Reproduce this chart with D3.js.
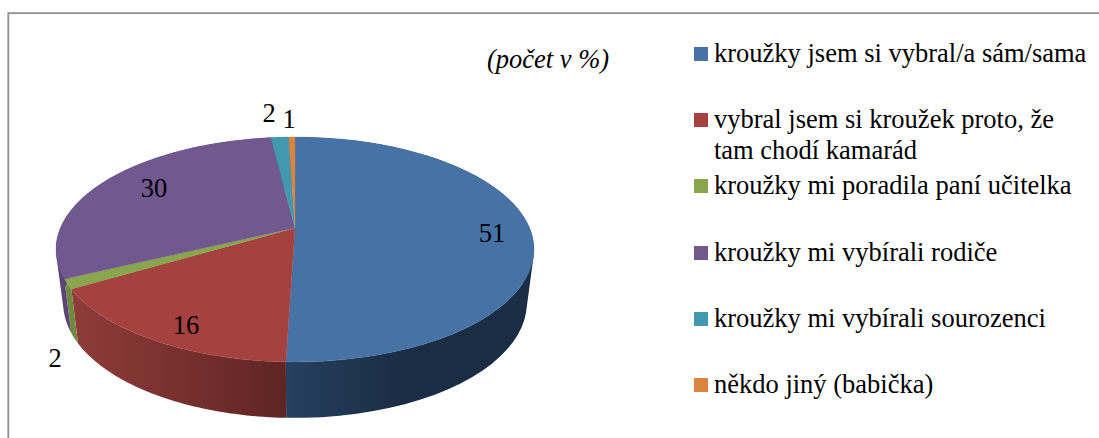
<!DOCTYPE html>
<html><head><meta charset="utf-8">
<style>html,body{margin:0;padding:0;background:#fff}svg{display:block}text{font-family:"Liberation Serif",serif;fill:#000}</style>
<script src="https://cdnjs.cloudflare.com/ajax/libs/d3/7.8.5/d3.min.js"></script>
</head><body><script>
const categories = ["kroužky jsem si vybral/a sám/sama","vybral jsem si kroužek proto, že|tam chodí kamarád","kroužky mi poradila paní učitelka","kroužky mi vybírali rodiče","kroužky mi vybírali sourozenci","někdo jiný (babička)"];
const labels = [51,16,2,30,2,1];
const shares = [50.5,16,1.4,30.15,1.45,0.5];
const colors = ["#4672a6","#a5423f","#89a54e","#71588f","#4198af","#db843d"];
const wallFrom = ["#27405f","#8f3c3a","#6f8a3e","#5a4574","#2f7486","#b06a30"];
const wallTo = ["#1a2d45","#5f2523","#6f8a3e","#5a4574","#2f7486","#b06a30"];
const labelPos = [[492,242],[186,334],[55,367],[154,197],[269,122],[289,128]];
const legendY = [54,120,186,253,319,385];

const W=1099,H=438;
const svg=d3.select("body").append("svg").attr("width",W).attr("height",H);
svg.append("path").attr("d","M8.3,438V13.2H1099").attr("fill","none").attr("stroke","#8f8f8f").attr("stroke-width",1.8);

const cx=295,c=-0.191,a=64.8,b=228,R=234.6,ecy=249.5,sx=0.97,sy=1.022,botCy=303;
const topPt=t=>{const u=Math.sin(t),v=-Math.cos(t),w=1+c*v;return [cx+R*u/w,(a*v+b)/w];};
const botPt=t=>{const p=topPt(t);return [cx+(p[0]-cx)*sx,botCy+(p[1]-ecy)*sy];};
const pie=d3.pie().sort(null).value(d=>d)(shares);
const defs=svg.append("defs");
pie.forEach((d,i)=>{
  const xs=d3.range(0,1.0001,0.02).map(k=>botPt(d.startAngle+k*(d.endAngle-d.startAngle))[0]);
  const g=defs.append("linearGradient").attr("id","w"+i).attr("gradientUnits","userSpaceOnUse")
    .attr("x1",i==0?286:(i==1?72:d3.min(xs))).attr("x2",i==0?400:(i==1?286:d3.max(xs))).attr("y1",0).attr("y2",0);
  g.append("stop").attr("offset",0).attr("stop-color",wallFrom[i]);
  g.append("stop").attr("offset",1).attr("stop-color",wallTo[i]);
});
const line=d3.line();
const gw=svg.append("g");
pie.forEach((d,i)=>{
  const ts=d3.range(0,1.0001,0.02).map(k=>d.startAngle+k*(d.endAngle-d.startAngle));
  // one path of same-wound quads: no seams, no cancelled overlap where the rims cross
  const dStr=d3.pairs(ts).map(([t0,t1])=>{
    const q=[topPt(t0),topPt(t1),botPt(t1),botPt(t0)];
    if(d3.polygonArea(q)<0) q.reverse();
    return line(q)+"Z";
  }).join("");
  gw.append("path").attr("d",dStr).attr("fill",`url(#w${i})`).attr("fill-rule","nonzero");
});
const gt=svg.append("g");
pie.forEach((d,i)=>{
  const ts=d3.range(0,1.0001,0.01).map(k=>d.startAngle+k*(d.endAngle-d.startAngle));
  gt.append("path").attr("d",line([[cx,b]].concat(ts.map(topPt)))+"Z").attr("fill",colors[i]).attr("stroke",colors[i]).attr("stroke-width",0.3);
});
svg.append("g").selectAll("text").data(labels).join("text")
  .attr("x",(d,i)=>labelPos[i][0]).attr("y",(d,i)=>labelPos[i][1]).attr("text-anchor","middle")
  .style("font-size","26.5px").text(d=>d);
svg.append("text").attr("x",548).attr("y",68).attr("text-anchor","middle").style("font-size","26.5px").style("font-style","italic").text("(počet v %)");
const lg=svg.append("g").selectAll("g").data(categories).join("g");
lg.append("rect").attr("x",694).attr("y",(d,i)=>legendY[i]-7).attr("width",14).attr("height",14).attr("fill",(d,i)=>colors[i]);
lg.each(function(d,i){
  const lines=d.split("|");
  d3.select(this).selectAll("text").data(lines).join("text").attr("x",714)
    .attr("y",(l,j)=>legendY[i]+8+j*31).style("font-size","26.5px").text(l=>l);
});
</script></body></html>
